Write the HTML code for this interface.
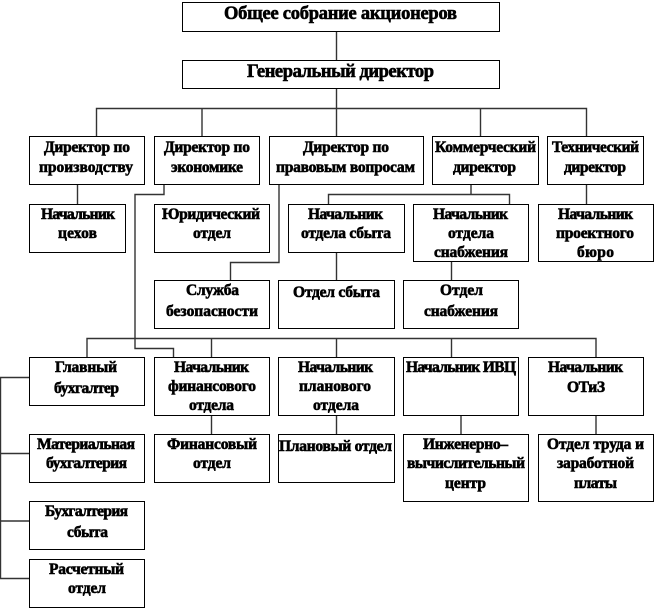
<!DOCTYPE html>
<html><head><meta charset="utf-8">
<style>
html,body{margin:0;padding:0;background:#fff;width:656px;height:611px;overflow:hidden}
svg{display:block}
text{font-family:"Liberation Serif","DejaVu Serif",serif;font-weight:bold;font-size:15.5px;fill:#000;stroke:#000;stroke-width:.6;text-anchor:start}
.b rect{fill:#fff;stroke:#000;stroke-width:1}
.c path{fill:none;stroke:#333;stroke-width:1.4}
</style></head><body>
<svg width="656" height="611" viewBox="0 0 656 611" xmlns="http://www.w3.org/2000/svg">
<g class="c">
<path d="M336.5 31V60M336.5 88V136"/>
<path d="M96.5 136V108.500H586.500V136M202 108.500V136M480.500 108.500V136"/>
<path d="M77.500 184V204M164 184V194.500H135V348.500H173.500V357"/>
<path d="M279 184V262.500H230.500V280"/>
<path d="M471 184V194.500M328.500 204V194.500H509.500V204"/>
<path d="M586.500 184V204M336.500 252V280M451.500 261V280"/>
<path d="M87 357V338.500H596V357M211.500 338.500V357M336.500 338.500V357M451.500 338.500V357"/>
<path d="M29 377.500H.5V578.500H29M0 453.500H29M0 521H29"/>
<path d="M211.500 415V434M336.500 415V434M461 415V434M596 415V434"/>
</g>
<g class="b">
<rect x="182.500" y="2.500" width="317" height="29"/>
<rect x="182.500" y="60.500" width="317" height="28"/>
<rect x="29.500" y="136.500" width="115" height="48"/>
<rect x="154.500" y="136.500" width="105" height="48"/>
<rect x="269.500" y="136.500" width="154" height="48"/>
<rect x="432.500" y="136.500" width="106" height="48"/>
<rect x="547.500" y="136.500" width="96" height="48"/>
<rect x="29.500" y="204.500" width="96" height="48"/>
<rect x="154.500" y="204.500" width="115" height="48"/>
<rect x="288.500" y="204.500" width="116" height="48"/>
<rect x="413.500" y="204.500" width="115" height="57"/>
<rect x="538.500" y="204.500" width="115" height="57"/>
<rect x="154.500" y="280.500" width="115" height="48"/>
<rect x="278.500" y="280.500" width="116" height="48"/>
<rect x="403.500" y="280.500" width="115" height="48"/>
<rect x="29.500" y="357.500" width="115" height="48"/>
<rect x="154.500" y="357.500" width="115" height="58"/>
<rect x="278.500" y="357.500" width="116" height="58"/>
<rect x="403.500" y="357.500" width="115" height="58"/>
<rect x="528.500" y="357.500" width="115" height="58"/>
<rect x="29.500" y="434.500" width="115" height="48"/>
<rect x="154.500" y="434.500" width="115" height="48"/>
<rect x="278.500" y="434.500" width="116" height="48"/>
<rect x="403.500" y="434.500" width="125" height="67"/>
<rect x="538.500" y="434.500" width="115" height="67"/>
<rect x="29.500" y="501.500" width="115" height="48"/>
<rect x="29.500" y="559.500" width="115" height="48"/>
</g>
<g>
<text x="224" y="19" textLength="233" style="font-size:18.500px">Общее собрание акционеров</text>
<text x="247" y="77" textLength="187" style="font-size:18.500px">Генеральный директор</text>
<text x="44" y="152" textLength="86">Директор по</text>
<text x="39" y="172" textLength="94">производству</text>
<text x="164" y="152" textLength="86">Директор по</text>
<text x="171" y="172" textLength="72">экономике</text>
<text x="303" y="152" textLength="86">Директор по</text>
<text x="276" y="172" textLength="139">правовым вопросам</text>
<text x="435" y="152" textLength="101">Коммерческий</text>
<text x="453" y="172" textLength="63">директор</text>
<text x="552" y="152" textLength="87">Технический</text>
<text x="564" y="172" textLength="62">директор</text>
<text x="41" y="219" textLength="74">Начальник</text>
<text x="58" y="238" textLength="39">цехов</text>
<text x="162" y="219" textLength="98">Юридический</text>
<text x="193" y="238" textLength="38">отдел</text>
<text x="308" y="219" textLength="75">Начальник</text>
<text x="301" y="238" textLength="90">отдела сбыта</text>
<text x="433" y="219" textLength="75">Начальник</text>
<text x="448" y="238" textLength="46">отдела</text>
<text x="434" y="257" textLength="74">снабжения</text>
<text x="558" y="219" textLength="75">Начальник</text>
<text x="556" y="238" textLength="78">проектного</text>
<text x="577" y="257" textLength="37">бюро</text>
<text x="186" y="295" textLength="53">Служба</text>
<text x="166" y="316" textLength="92">безопасности</text>
<text x="293" y="297" textLength="87">Отдел сбыта</text>
<text x="440" y="295" textLength="43">Отдел</text>
<text x="424" y="316" textLength="74">снабжения</text>
<text x="55" y="372" textLength="62">Главный</text>
<text x="54" y="393" textLength="65">бухгалтер</text>
<text x="174" y="372" textLength="75">Начальник</text>
<text x="168" y="391" textLength="88">финансового</text>
<text x="189" y="410" textLength="45">отдела</text>
<text x="298" y="372" textLength="75">Начальник</text>
<text x="299" y="391" textLength="72">планового</text>
<text x="313" y="410" textLength="46">отдела</text>
<text x="406" y="372" textLength="110">Начальник ИВЦ</text>
<text x="548" y="372" textLength="75">Начальник</text>
<text x="567" y="392" textLength="38">ОТиЗ</text>
<text x="37" y="449" textLength="98">Материальная</text>
<text x="46" y="468" textLength="81">бухгалтерия</text>
<text x="167" y="449" textLength="90">Финансовый</text>
<text x="193" y="468" textLength="38">отдел</text>
<text x="279" y="451" textLength="113">Плановый отдел</text>
<text x="423" y="449" textLength="85">Инженерно–</text>
<text x="407" y="468" textLength="118">вычислительный</text>
<text x="445" y="488" textLength="41">центр</text>
<text x="547" y="449" textLength="97">Отдел труда и</text>
<text x="557" y="468" textLength="77">заработной</text>
<text x="574" y="488" textLength="43">платы</text>
<text x="45" y="516" textLength="83">Бухгалтерия</text>
<text x="67" y="537" textLength="41">сбыта</text>
<text x="49" y="574" textLength="75">Расчетный</text>
<text x="68" y="593" textLength="38">отдел</text>
</g>
</svg>
</body></html>
